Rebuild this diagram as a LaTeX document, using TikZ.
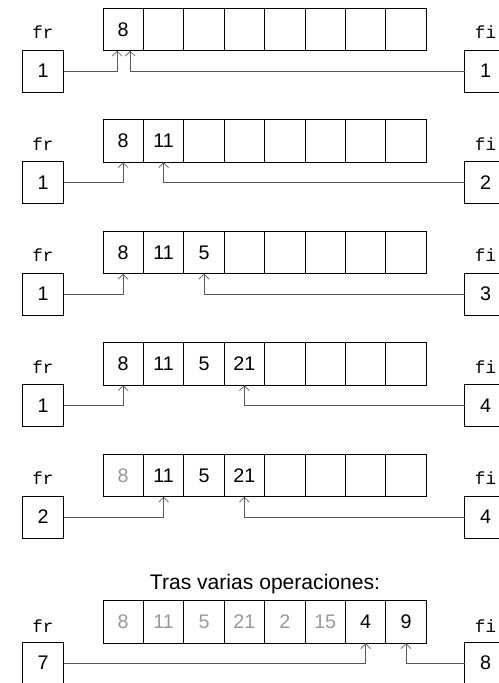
\documentclass[tikz,border=0pt]{standalone}
\usepackage{fontspec}
\setmainfont{Liberation Sans}
\setmonofont{Liberation Mono}
\usetikzlibrary{positioning,arrows.meta}

\begin{document}
\begin{tikzpicture}[x=0.025cm, y=-0.025cm,
  cell/.style={draw=black, line width=0.6pt, minimum width=1.01cm,
               minimum height=1.06cm, inner sep=0pt, outer sep=0pt,
               font=\fontsize{14}{16}\selectfont},
  ptr/.style={draw=black, line width=0.6pt, minimum width=1.03cm,
              minimum height=1.05cm, inner sep=0pt, outer sep=0pt,
              font=\fontsize{14}{16}\selectfont},
  lbl/.style={font=\ttfamily\fontsize{12.5}{14}\selectfont},
  link/.style={draw=black!65, line width=0.5pt,
               -{Straight Barb[length=3.5pt,width=7pt]}},
]
\useasboundingbox (0,0) rectangle (499,683);

% fila 1
\foreach \v [count=\i] in {8,{},{},{},{},{},{},{}}
  \node[cell] (r1c\i) at ({103+(\i-0.5)*40.4}, 29.5) {\v};
\node[lbl] (fr1) at (43, 32)    {fr};
\node[ptr] (pf1) at (43, 71)    {1};
\node[lbl] (fi1) at (485.5, 32) {fi};
\node[ptr] (pi1) at (485.5, 71) {1};
\draw[link] (pf1.east) -| ([xshift=-0.15cm]r1c1.south);
\draw[link] (pi1.west) -| ([xshift=0.175cm]r1c1.south);

% fila 2
\foreach \v [count=\i] in {8,11,{},{},{},{},{},{}}
  \node[cell] (r2c\i) at ({103+(\i-0.5)*40.4}, 141) {\v};
\node[lbl] (fr2) at (43, 144)    {fr};
\node[ptr] (pf2) at (43, 182.5)  {1};
\node[lbl] (fi2) at (485.5, 144) {fi};
\node[ptr] (pi2) at (485.5, 182.5) {2};
\draw[link] (pf2.east) -| (r2c1.south);
\draw[link] (pi2.west) -| (r2c2.south);

% fila 3
\foreach \v [count=\i] in {8,11,5,{},{},{},{},{}}
  \node[cell] (r3c\i) at ({103+(\i-0.5)*40.4}, 252.5) {\v};
\node[lbl] (fr3) at (43, 255.5)    {fr};
\node[ptr] (pf3) at (43, 294)      {1};
\node[lbl] (fi3) at (485.5, 255.5) {fi};
\node[ptr] (pi3) at (485.5, 294)   {3};
\draw[link] (pf3.east) -| (r3c1.south);
\draw[link] (pi3.west) -| (r3c3.south);

% fila 4
\foreach \v [count=\i] in {8,11,5,21,{},{},{},{}}
  \node[cell] (r4c\i) at ({103+(\i-0.5)*40.4}, 364) {\v};
\node[lbl] (fr4) at (43, 367)    {fr};
\node[ptr] (pf4) at (43, 405.5)  {1};
\node[lbl] (fi4) at (485.5, 367) {fi};
\node[ptr] (pi4) at (485.5, 405.5) {4};
\draw[link] (pf4.east) -| (r4c1.south);
\draw[link] (pi4.west) -| (r4c4.south);

% fila 5: se ha extraido el 8
\foreach \v [count=\i] in {{\color{black!40}8},11,5,21,{},{},{},{}}
  \node[cell] (r5c\i) at ({103+(\i-0.5)*40.4}, 475.5) {\v};
\node[lbl] (fr5) at (43, 478.5)    {fr};
\node[ptr] (pf5) at (43, 517)      {2};
\node[lbl] (fi5) at (485.5, 478.5) {fi};
\node[ptr] (pi5) at (485.5, 517)   {4};
\draw[link] (pf5.east) -| (r5c2.south);
\draw[link] (pi5.west) -| (r5c4.south);

% tras varias operaciones
\node[font=\fontsize{15}{18}\selectfont] (tras) at (265, 584)
  {Tras varias operaciones:};
\foreach \v [count=\i] in {{\color{black!40}8},{\color{black!40}11},
    {\color{black!40}5},{\color{black!40}21},{\color{black!40}2},
    {\color{black!40}15},4,9}
  \node[cell] (r6c\i) at ({103+(\i-0.5)*40.4}, 622) {\v};
\node[lbl] (fr6) at (43, 626)    {fr};
\node[ptr] (pf6) at (43, 663)    {7};
\node[lbl] (fi6) at (485.5, 626) {fi};
\node[ptr] (pi6) at (485.5, 663) {8};
\draw[link] (pf6.east) -| (r6c7.south);
\draw[link] (pi6.west) -| (r6c8.south);
\end{tikzpicture}
\end{document}
